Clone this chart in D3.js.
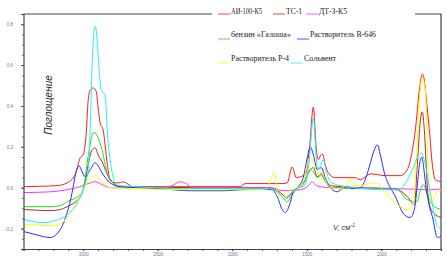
<!DOCTYPE html>
<html>
<head>
<meta charset="utf-8">
<script src="https://cdn.jsdelivr.net/npm/d3@7"></script>
<style>
  body { margin: 0; background: #fff; }
  svg { display: block; }
</style>
</head>
<body>
<div id="ir-chart"></div>
<script>
// series: [wavenumber cm-1, absorbance]
const seriesNames = ["АИ-100-К5", "ТС-1", "ДТ-З-К5", "бензин «Галоша»", "Растворитель В-646", "Растворитель Р-4", "Сольвент"];
const seriesColors = ["#ff1a1a", "#b52b2b", "#ff33ff", "#22dd22", "#2b2bff", "#ffff00", "#22f0f0"];

const ai100 = [[3396,0.005],[3290,0.007],[3175,0.010],[3107,0.024],[3054,0.063],[3020,0.146],[3000,0.161],[2980,0.259],[2966,0.429],[2953,0.478],[2933,0.488],[2913,0.473],[2900,0.395],[2886,0.317],[2866,0.283],[2839,0.122],[2819,0.039],[2785,0.024],[2752,0.024],[2732,0.029],[2665,0.005],[2450,0.005],[1947,0.005],[1913,0.020],[1658,0.020],[1631,0.024],[1598,0.102],[1571,0.049],[1544,0.054],[1510,0.063],[1483,0.185],[1456,0.395],[1436,0.185],[1423,0.137],[1409,0.156],[1396,0.166],[1376,0.112],[1356,0.073],[1309,0.049],[1175,0.049],[1141,0.039],[1074,0.068],[973,0.059],[873,0.059],[826,0.088],[792,0.185],[772,0.283],[745,0.478],[725,0.556],[712,0.527],[698,0.429],[678,0.283],[658,0.112],[638,0.039],[597,0.029]];
const ts1 = [[3396,-0.107],[3221,-0.112],[3154,-0.107],[3107,-0.093],[3020,-0.044],[2987,0.029],[2966,0.112],[2940,0.185],[2919,0.195],[2900,0.161],[2873,0.127],[2846,0.078],[2819,0.039],[2785,0.015],[2752,0.005],[2215,0],[1745,0],[1678,-0.024],[1631,-0.049],[1598,-0.024],[1564,0],[1524,0.024],[1497,0.059],[1477,0.088],[1456,0.098],[1430,0.054],[1402,0.068],[1376,0.039],[1342,0.010],[1141,0],[893,-0.010],[826,-0.044],[779,-0.083],[759,0.112],[738,0.332],[725,0.371],[712,0.283],[691,0],[671,-0.098],[638,-0.132],[597,-0.146]];
const dt3 = [[3396,-0.024],[3221,-0.020],[3107,-0.010],[3020,0.005],[2966,0.020],[2919,0.029],[2873,0.015],[2819,0],[2450,0],[2403,0.010],[2349,0.029],[2309,0.020],[2269,0],[1745,0],[1658,-0.015],[1544,-0.010],[1497,0.005],[1463,0.029],[1436,0.010],[1342,0],[1141,0],[873,-0.005],[671,-0.010],[597,-0.005]];
const galosha = [[3396,-0.093],[3221,-0.093],[3154,-0.088],[3107,-0.068],[3020,-0.034],[2993,0.015],[2973,0.122],[2953,0.210],[2933,0.268],[2919,0.268],[2900,0.244],[2873,0.185],[2839,0.073],[2799,0.024],[2752,0.005],[2215,-0.005],[1745,-0.005],[1678,-0.034],[1631,-0.068],[1598,-0.034],[1564,-0.005],[1524,0.015],[1497,0.063],[1477,0.088],[1456,0.078],[1430,0.049],[1402,0.059],[1376,0.029],[1342,0],[893,-0.010],[826,-0.059],[759,-0.068],[738,-0.010],[718,0.015],[691,-0.034],[658,-0.083],[597,-0.107]];
const v646 = [[3396,-0.215],[3322,-0.229],[3221,-0.244],[3154,-0.205],[3107,-0.122],[3074,-0.024],[3047,0.078],[3027,0.107],[3007,0.078],[2987,0.054],[2953,0.088],[2919,0.122],[2900,0.107],[2873,0.073],[2819,0.024],[2752,0.005],[2483,-0.005],[2282,-0.015],[2061,-0.015],[1812,-0.005],[1732,-0.010],[1698,-0.044],[1665,-0.107],[1645,-0.122],[1611,-0.073],[1591,-0.020],[1564,0],[1524,0.049],[1497,0.146],[1477,0.200],[1456,0.161],[1430,0.088],[1402,0.098],[1376,0.049],[1342,0],[1295,-0.020],[1255,0],[1228,0.005],[1195,-0.005],[1141,0],[1108,0.039],[1081,0.102],[1047,0.185],[1027,0.210],[1007,0.161],[980,0.073],[940,0],[913,-0.034],[846,-0.132],[805,-0.146],[779,-0.107],[759,0.010],[745,0.110],[728,0.150],[715,0.090],[698,-0.010],[678,-0.090],[658,-0.141],[624,-0.244],[597,-0.234]];
const r4 = [[3396,-0.180],[3221,-0.185],[3154,-0.176],[3107,-0.146],[3040,-0.068],[3000,-0.010],[2973,0.024],[2947,0.049],[2919,0.059],[2893,0.044],[2866,0.024],[2819,0],[2215,-0.010],[1799,-0.010],[1759,0.010],[1738,0.049],[1718,0.073],[1705,0.029],[1692,-0.034],[1665,-0.059],[1638,-0.044],[1611,-0.010],[1564,0],[1524,0.029],[1497,0.112],[1477,0.151],[1456,0.127],[1430,0.073],[1402,0.078],[1376,0.039],[1342,0],[1275,-0.005],[1235,0.015],[1208,0.044],[1181,0.010],[1141,0.010],[1047,0.024],[973,-0.024],[913,-0.068],[826,-0.107],[785,-0.083],[765,0.137],[745,0.429],[725,0.537],[705,0.478],[691,0.185],[678,-0.034],[665,-0.073],[631,-0.024],[597,-0.010]];
const solvent = [[3396,-0.156],[3268,-0.171],[3188,-0.161],[3107,-0.132],[3034,-0.068],[3000,-0.010],[2966,0.088],[2953,0.283],[2940,0.600],[2919,0.790],[2906,0.722],[2893,0.576],[2880,0.478],[2852,0.454],[2839,0.283],[2819,0.137],[2805,0.073],[2785,0.024],[2752,0.010],[2215,-0.005],[1745,-0.005],[1692,-0.024],[1651,-0.054],[1611,-0.029],[1564,-0.005],[1510,0.015],[1483,0.137],[1456,0.341],[1436,0.137],[1423,0.088],[1402,0.122],[1389,0.137],[1369,0.078],[1342,0.029],[1275,0.010],[1108,-0.005],[1007,-0.010],[893,-0.010],[839,0.020],[792,0.088],[759,0.146],[732,0.171],[705,0.112],[678,0.005],[651,-0.107],[624,-0.190],[597,-0.200]];

const seriesData = [ai100, ts1, dt3, galosha, v646, r4, solvent];

const yTickValues = [0.8, 0.6, 0.4, 0.2, 0, -0.2];
const xTickValues = [3000, 2500, 2000, 1500, 1000];

const WIDTH = 447;
const HEIGHT = 260;
const PLOT = { LEFT: 23.5, RIGHT: 441, TOP: 14, BOTTOM: 249 };

const svg = d3
  .select("#ir-chart")
  .append("svg")
  .attr("width", WIDTH)
  .attr("height", HEIGHT);

const x = d3.scaleLinear().domain([3400, 600]).range([PLOT.LEFT, PLOT.RIGHT]);
const y = d3.scaleLinear().domain([-0.3, 0.85]).range([PLOT.BOTTOM, PLOT.TOP]);

svg.append("clipPath").attr("id", "plot-clip")
  .append("rect")
  .attr("x", PLOT.LEFT).attr("y", PLOT.TOP)
  .attr("width", PLOT.RIGHT - PLOT.LEFT).attr("height", PLOT.BOTTOM - PLOT.TOP);

// frame (top + right)
svg.append("path")
  .attr("d", `M${PLOT.LEFT},${PLOT.TOP}H${PLOT.RIGHT}V${PLOT.BOTTOM}`)
  .style("fill", "none")
  .style("stroke", "#444")
  .style("stroke-width", "1.2px");

// LINES
const line = d3.line()
  .x((d) => x(d[0]))
  .y((d) => y(d[1]))
  .curve(d3.curveMonotoneX);

svg.append("g")
  .attr("clip-path", "url(#plot-clip)")
  .selectAll("path")
  .data(seriesData)
  .enter()
  .append("path")
  .attr("d", line)
  .style("fill", "none")
  .style("stroke", (d, i) => seriesColors[i])
  .style("stroke-width", "1px");

// AXES
function styleAxis(g) {
  g.select(".domain").style("stroke", "#444").style("stroke-width", "1.2px");
  g.selectAll(".tick line").style("stroke", "#333").style("stroke-width", "0.8px");
  g.selectAll("text")
    .style("font-family", "Arial, 'Liberation Sans', sans-serif")
    .style("font-size", "4.5px")
    .style("fill", "#6c7c98");
}

svg.append("g")
  .attr("transform", `translate(${PLOT.LEFT}, 0)`)
  .call(d3.axisLeft(y).tickValues(d3.range(-0.3, 0.851, 0.05)).tickSize(1.5).tickFormat(""))
  .call((g) => g.select(".domain").remove())
  .call(styleAxis);

svg.append("g")
  .attr("transform", `translate(${PLOT.LEFT}, 0)`)
  .call(d3.axisLeft(y).tickValues(yTickValues).tickSize(2.5).tickPadding(8).tickFormat(d3.format(".1f")))
  .call(styleAxis);

svg.append("g")
  .attr("transform", `translate(0, ${PLOT.BOTTOM})`)
  .call(d3.axisBottom(x).tickValues(d3.range(600, 3401, 100)).tickSize(2).tickFormat(""))
  .call((g) => g.select(".domain").remove())
  .call(styleAxis);

svg.append("g")
  .attr("transform", `translate(0, ${PLOT.BOTTOM})`)
  .call(d3.axisBottom(x).tickValues(xTickValues).tickSize(2).tickPadding(1.5).tickFormat(d3.format("d")))
  .call(styleAxis);

// axis titles
svg.append("text")
  .attr("transform", "translate(52, 105) rotate(-90)")
  .style("text-anchor", "middle")
  .style("font-family", "Arial, 'Liberation Sans', sans-serif")
  .style("font-style", "italic")
  .style("font-size", "10px")
  .style("fill", "#222")
  .text("Поглощение");

const xTitle = svg.append("text")
  .attr("x", 333)
  .attr("y", 230)
  .style("font-family", "Arial, 'Liberation Sans', sans-serif")
  .style("font-style", "italic")
  .style("font-size", "7.5px")
  .style("fill", "#333");
xTitle.append("tspan").text("V, см");
xTitle.append("tspan").attr("dy", -3).style("font-size", "5px").text("-1");

// LEGEND
const legendSlots = [
  { sx: 218, sy: 14, tw: 31 },
  { sx: 273, sy: 14, tw: 16 },
  { sx: 306, sy: 14, tw: 28 },
  { sx: 218, sy: 39, tw: 60 },
  { sx: 297, sy: 39, tw: 66 },
  { sx: 218, sy: 63, tw: 58 },
  { sx: 291, sy: 63, tw: 32 },
];

svg.append("rect")
  .attr("x", 212).attr("y", 4)
  .attr("width", 203).attr("height", 66)
  .style("fill", "#fff");

const legend = svg.append("g")
  .selectAll("g")
  .data(seriesNames)
  .enter()
  .append("g");

legend.append("line")
  .attr("x1", (d, i) => legendSlots[i].sx)
  .attr("x2", (d, i) => legendSlots[i].sx + 12)
  .attr("y1", (d, i) => legendSlots[i].sy)
  .attr("y2", (d, i) => legendSlots[i].sy)
  .style("stroke", (d, i) => seriesColors[i])
  .style("stroke-width", "1px")
  .style("opacity", 0.8);

legend.append("text")
  .attr("x", (d, i) => legendSlots[i].sx + 13)
  .attr("y", (d, i) => legendSlots[i].sy - (i < 3 ? 0 : 2))
  .attr("textLength", (d, i) => legendSlots[i].tw)
  .attr("lengthAdjust", "spacingAndGlyphs")
  .style("font-family", "'Liberation Serif', 'Times New Roman', serif")
  .style("font-size", "8.5px")
  .style("fill", "#222")
  .text((d) => d);
</script>
</body>
</html>
